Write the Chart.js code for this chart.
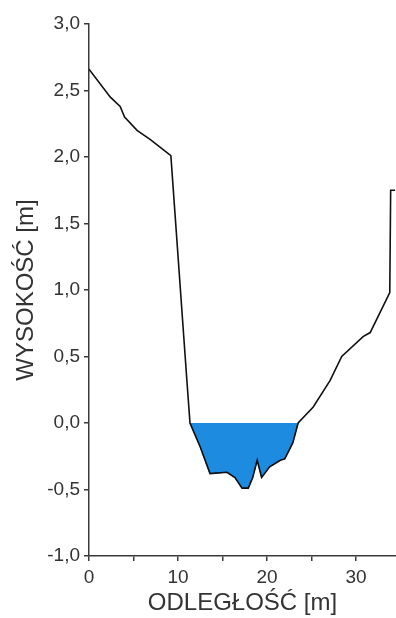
<!DOCTYPE html>
<html>
<head>
<meta charset="utf-8">
<script src="https://cdn.jsdelivr.net/npm/chart.js@4"></script>
<style>
  html, body { margin: 0; padding: 0; background: #fff; }
  #wrap { width: 396px; height: 618px; }
</style>
</head>
<body>
<div id="wrap"><canvas id="chart" width="396" height="618"></canvas></div>
<script>
// cross-section profile, distance [m] and elevation [m]
let profileDist = [0, 2.4, 3.5, 4.0, 5.4, 6.9, 9.2, 11.0, 11.35, 12.5, 13.6, 15.5, 16.4, 17.2, 17.9, 18.4, 18.9, 19.4, 20.3, 21.5, 22.0, 22.9, 23.5, 25.2, 27.1, 28.4, 30.8, 31.6, 32.7, 33.8, 33.9, 34.4];
let profileElev = [2.66, 2.45, 2.38, 2.30, 2.20, 2.13, 2.01, 0.32, 0.0, -0.18, -0.38, -0.37, -0.41, -0.49, -0.49, -0.41, -0.28, -0.41, -0.33, -0.28, -0.27, -0.15, 0.0, 0.12, 0.32, 0.50, 0.65, 0.68, 0.83, 0.98, 1.75, 1.75];

// water body: river bed under the water level
let waterDist = [11.35, 12.5, 13.6, 15.5, 16.4, 17.2, 17.9, 18.4, 18.9, 19.4, 20.3, 21.5, 22.0, 22.9, 23.5];
let waterBed = [0.0, -0.18, -0.38, -0.37, -0.41, -0.49, -0.49, -0.41, -0.28, -0.41, -0.33, -0.28, -0.27, -0.15, 0.0];
let waterLevel = 0;

let xTicks = [0, 10, 20, 30];
let xMin = 0, xMax = 34.5;
let yMin = -1, yMax = 3;

let axisColor = "#3a3a3a";
let textColor = "#333";
let font = "'Liberation Sans', Arial, sans-serif";

let profile = profileDist.map((d, i) => ({x: d, y: profileElev[i]}));
let water = waterDist.map((d, i) => ({x: d, y: waterBed[i]}));

new Chart(document.getElementById("chart"), {
    type: "line",
    data: {
        datasets: [
            {
                data: profile,
                borderColor: "#111",
                borderWidth: 1.6,
                pointRadius: 0,
                tension: 0,
                fill: false
            },
            {
                data: water,
                borderColor: "#1b5f96",
                borderWidth: 1,
                pointRadius: 0,
                tension: 0,
                backgroundColor: "#1d8ce0",
                fill: {value: waterLevel}
            }
        ]
    },
    options: {
        responsive: false,
        animation: false,
        layout: {padding: {top: 24, right: 0, left: 0, bottom: 0}},
        plugins: {legend: {display: false}, tooltip: {enabled: false}},
        scales: {
            x: {
                type: "linear",
                min: xMin,
                max: xMax,
                afterFit: s => { s.height = 62; },
                afterBuildTicks: s => {
                    s.ticks = [0, 5, 10, 15, 20, 25, 30].map(v => ({value: v}));
                },
                ticks: {
                    color: textColor,
                    font: {family: font, size: 19},
                    padding: 5,
                    maxRotation: 0,
                    callback: v => xTicks.includes(v) ? String(v) : ""
                },
                grid: {drawOnChartArea: false, drawTicks: true, tickLength: 5, color: axisColor, lineWidth: 1.5},
                border: {color: axisColor, width: 1.5},
                title: {
                    display: true,
                    text: "ODLEGŁOŚĆ [m]",
                    color: textColor,
                    font: {family: font, size: 24},
                    padding: {top: 0, bottom: 0}
                }
            },
            y: {
                type: "linear",
                min: yMin,
                max: yMax,
                afterFit: s => { s.width = 89; },
                ticks: {
                    stepSize: 0.5,
                    color: textColor,
                    font: {family: font, size: 19},
                    padding: 4,
                    callback: v => v.toFixed(1).replace(".", ",")
                },
                grid: {drawOnChartArea: false, drawTicks: true, tickLength: 5, color: axisColor, lineWidth: 1.5},
                border: {color: axisColor, width: 1.5},
                title: {
                    display: true,
                    text: "WYSOKOŚĆ [m]",
                    color: textColor,
                    font: {family: font, size: 24},
                    padding: {top: 12, bottom: 0}
                }
            }
        }
    }
});
</script>
</body>
</html>
